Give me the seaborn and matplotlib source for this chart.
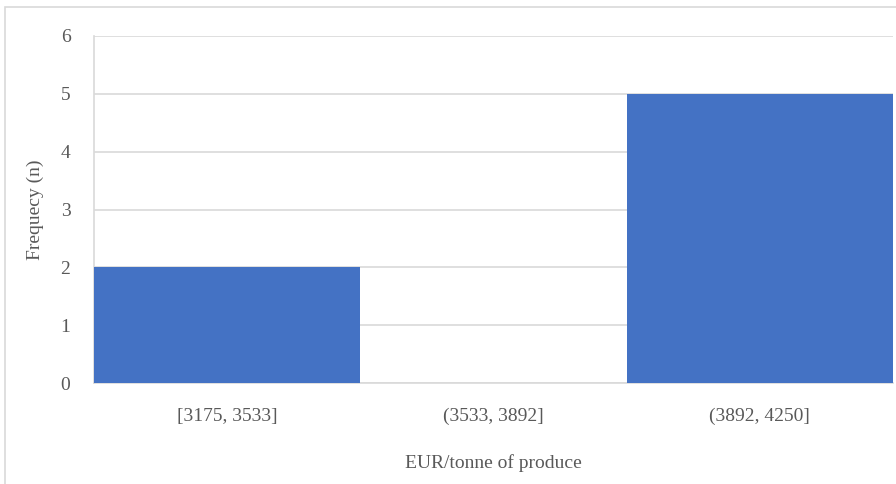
import matplotlib
matplotlib.use("Agg")
import matplotlib.pyplot as plt
import seaborn as sns
import pandas as pd
from matplotlib.patches import Rectangle

bins = ["[3175, 3533]", "(3533, 3892]", "(3892, 4250]"]
counts = [2, 0, 5]

df = pd.DataFrame({"bin": bins, "n": counts})

sns.set_style("white")
plt.rcParams['font.family'] = ['Liberation Serif', 'DejaVu Serif']

fig = plt.figure(figsize=(8.96, 4.84), dpi=100)
ax = fig.add_axes([94 / 896, 1 - 383 / 484, 799 / 896, 347 / 484])

sns.barplot(data=df, x="bin", y="n", color="#4472C4", width=1.0, saturation=1,
            linewidth=0, ax=ax, zorder=3)

ax.set_ylim(0, 6)
ax.set_xlim(-0.5, 2.5)
ax.set_yticks(range(0, 7))
ax.yaxis.grid(True, color="#D9D9D9", linewidth=1.2, zorder=0)
ax.set_axisbelow(True)

for s in ["top", "right"]:
    ax.spines[s].set_visible(False)
ax.spines["left"].set_color("#D9D9D9")
ax.spines["bottom"].set_color("#D9D9D9")
ax.spines["left"].set_linewidth(1.2)
ax.spines["bottom"].set_linewidth(1.2)

ax.tick_params(axis="both", length=0, labelsize=14, labelcolor="#595959")
ax.tick_params(axis="y", pad=17)
ax.tick_params(axis="x", pad=18)
ax.set_ylabel("Frequecy (n)", fontsize=14, color="#595959", labelpad=12)
ax.set_xlabel("EUR/tonne of produce", fontsize=14, color="#595959", labelpad=21)

# outer chart border
fig.patches.append(Rectangle((5 / 896, -0.1), 1.0, 1 - 7 / 484 + 0.1,
                             transform=fig.transFigure, fill=False,
                             edgecolor="#D9D9D9", linewidth=1.2))

fig.savefig("out.png", dpi=100)
